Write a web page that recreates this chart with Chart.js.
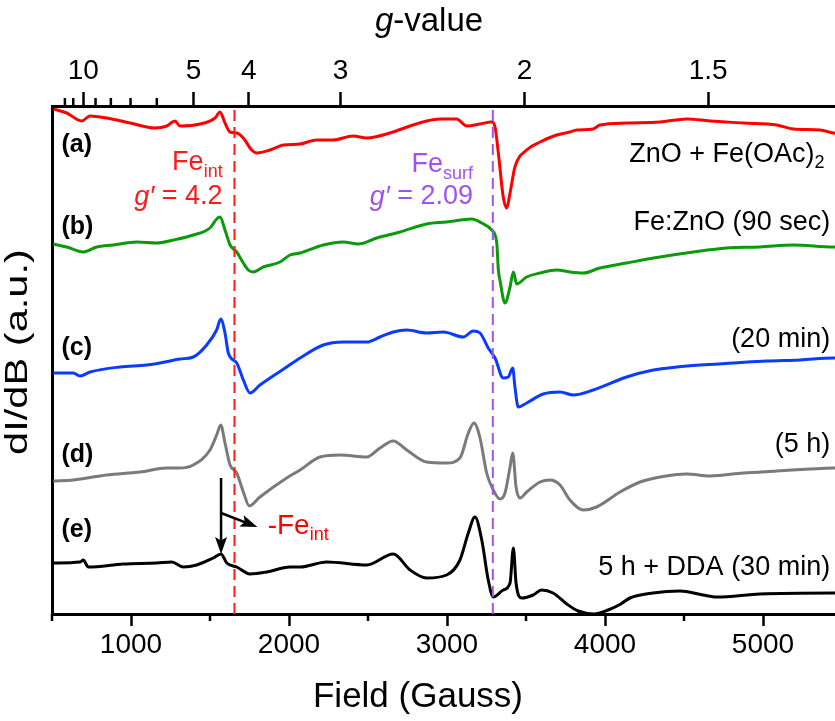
<!DOCTYPE html>
<html>
<head>
<meta charset="utf-8">
<script src="https://cdn.jsdelivr.net/npm/chart.js@4.4.1/dist/chart.umd.min.js"></script>
<style>
html, body { margin: 0; padding: 0; background: #fff; overflow: hidden; }
#wrap { width: 846px; height: 721px; }
</style>
</head>
<body>
<div id="wrap"><canvas id="epr" width="846" height="721"></canvas></div>
<script>
// field (gauss) and offset dI/dB signal (a.u.) for each sample
const fieldA = [510, 593, 688, 740, 846, 994, 1152, 1226, 1278, 1310, 1437, 1532, 1563, 1595, 1627, 1669, 1711, 1764, 1796, 1880, 1964, 2070, 2175, 2278, 2405, 2492, 2639, 2766, 2871, 2956, 3061, 3125, 3209, 3283, 3304, 3325, 3356, 3378, 3399, 3430, 3504, 3589, 3694, 3778, 3821, 3924, 3968, 4137, 4348, 4517, 4664, 4875, 5087, 5192, 5361, 5445, 5500];
const signalA = [50.1, 49.7, 48.9, 49.4, 49.2, 48.7, 48.2, 48.4, 48.9, 48.4, 48.6, 49.2, 49.8, 48.7, 47.8, 47.7, 47.2, 46.0, 45.7, 46.0, 46.5, 46.6, 47.0, 47.0, 47.4, 47.2, 47.7, 48.4, 48.9, 49.1, 49.1, 48.4, 48.6, 48.8, 48.3, 45.7, 41.3, 40.2, 41.7, 44.3, 46.0, 46.8, 47.5, 47.8, 48.0, 48.1, 48.5, 48.7, 48.8, 49.1, 48.9, 48.7, 48.5, 48.1, 48.0, 47.7, 47.6];

const fieldB = [508, 593, 698, 783, 888, 1036, 1163, 1268, 1394, 1500, 1542, 1563, 1595, 1627, 1669, 1711, 1742, 1774, 1837, 1943, 2006, 2070, 2217, 2344, 2439, 2555, 2703, 2871, 2998, 3156, 3220, 3283, 3315, 3325, 3335, 3367, 3399, 3420, 3441, 3504, 3589, 3694, 3778, 3863, 3968, 4137, 4348, 4559, 4770, 4981, 5192, 5445, 5500];
const signalB = [36.6, 36.3, 35.8, 36.3, 36.5, 36.8, 36.7, 37.0, 37.5, 38.2, 39.1, 39.3, 38.0, 36.5, 35.8, 34.7, 34.0, 33.8, 34.3, 34.8, 35.5, 35.7, 36.5, 36.8, 36.6, 37.2, 37.8, 38.6, 38.8, 39.1, 38.7, 38.0, 36.7, 34.0, 33.0, 30.7, 32.3, 33.8, 32.6, 33.3, 33.7, 34.0, 33.8, 33.7, 34.2, 34.7, 35.3, 35.8, 36.2, 36.3, 36.5, 36.3, 36.4];

const fieldC = [508, 635, 677, 741, 930, 1099, 1184, 1310, 1394, 1479, 1542, 1568, 1595, 1616, 1669, 1711, 1753, 1816, 1985, 2070, 2217, 2344, 2492, 2576, 2660, 2745, 2871, 2977, 3103, 3166, 3209, 3261, 3304, 3356, 3388, 3416, 3430, 3451, 3504, 3609, 3715, 3799, 3926, 4137, 4306, 4454, 4601, 4812, 5023, 5234, 5445, 5500];
const signalC = [23.7, 23.7, 23.4, 23.8, 24.3, 24.5, 24.7, 25.1, 25.3, 26.5, 28.0, 29.1, 27.7, 25.7, 24.7, 23.0, 21.7, 22.5, 24.3, 25.2, 26.5, 26.8, 26.8, 27.3, 27.8, 28.0, 27.7, 27.8, 27.3, 27.9, 27.7, 26.2, 25.2, 23.2, 23.3, 24.2, 22.3, 20.3, 20.7, 21.6, 21.8, 21.5, 22.0, 23.3, 24.0, 24.3, 24.5, 24.7, 24.9, 25.0, 25.2, 25.2];

const fieldD = [508, 635, 846, 1057, 1226, 1310, 1394, 1500, 1542, 1568, 1595, 1627, 1669, 1711, 1749, 1816, 1985, 2070, 2196, 2323, 2492, 2576, 2660, 2745, 2871, 2998, 3082, 3135, 3171, 3209, 3251, 3293, 3335, 3367, 3399, 3416, 3437, 3462, 3504, 3589, 3652, 3715, 3778, 3863, 3947, 4095, 4222, 4348, 4517, 4664, 4875, 5087, 5297, 5445, 5500];
const signalD = [12.9, 13.0, 13.5, 13.8, 14.2, 14.2, 14.5, 16.0, 17.5, 18.5, 16.7, 14.5, 13.7, 11.8, 10.4, 11.3, 13.2, 14.0, 15.3, 15.5, 15.3, 16.2, 16.9, 16.0, 14.8, 14.7, 15.2, 17.7, 18.7, 17.2, 13.7, 12.0, 11.1, 11.7, 14.3, 15.7, 12.3, 11.2, 11.8, 12.8, 13.0, 12.5, 11.0, 10.0, 10.3, 11.8, 12.8, 13.3, 13.6, 13.4, 13.7, 13.9, 14.1, 14.2, 14.2];

const fieldE = [508, 677, 698, 730, 951, 1163, 1258, 1331, 1416, 1521, 1570, 1606, 1669, 1753, 1859, 2006, 2070, 2239, 2492, 2660, 2766, 2871, 2998, 3082, 3135, 3177, 3220, 3261, 3293, 3356, 3399, 3420, 3437, 3473, 3546, 3599, 3671, 3758, 3830, 3930, 4020, 4100, 4158, 4304, 4475, 4620, 4707, 4981, 5443, 5500];
const signalE = [4.7, 4.8, 5.0, 4.3, 4.6, 4.7, 4.8, 4.3, 4.5, 5.2, 5.6, 4.7, 4.3, 3.6, 3.8, 4.3, 4.3, 4.8, 4.5, 5.6, 4.0, 3.2, 3.5, 5.0, 7.7, 9.3, 7.0, 3.0, 1.3, 2.0, 2.7, 6.2, 2.7, 1.2, 1.5, 2.0, 1.7, 0.6, -0.1, -0.4, 0.0, 0.6, 1.2, 1.7, 1.9, 1.5, 1.3, 1.6, 1.7, 1.7];

const traceNames = ['ZnO + Fe(OAc)2', 'Fe:ZnO (90 sec)', '(20 min)', '(5 h)', '5 h + DDA (30 min)'];
const traceColors = ['#ff0000', '#0c990c', '#0a3cff', '#7a7a7a', '#000000'];

// marked resonances: Fe_int (g' = 4.2) and Fe_surf (g' = 2.09)
const markerFields = [1655, 3290];
const markerColors = ['#ff1a1a', '#a052f0'];

// g = gConst / B  (h*nu / muB in gauss for the X-band frequency)
const gConst = 6980;
const gMajor = [10, 5, 4, 3, 2, 1.5];
const gMinor = [12, 11, 9, 8, 7, 6];

const fieldTicks = [1000, 2000, 3000, 4000, 5000];
const fieldMinor = [500, 1500, 2500, 3500, 4500, 5500];

const FONT = '"Liberation Sans", Arial, sans-serif';
const yMin = -0.4, yMax = 50.4;

function pts(xs, ys) {
    return xs.map((x, i) => ({ x: x, y: ys[i] }));
}

const traces = [[fieldA, signalA], [fieldB, signalB], [fieldC, signalC], [fieldD, signalD], [fieldE, signalE]];

const datasets = [];
markerFields.forEach((f, i) => {
    datasets.push({
        data: [{ x: f, y: yMin }, { x: f, y: yMax }],
        borderColor: markerColors[i],
        borderWidth: 2,
        borderDash: [11, 6],
        pointRadius: 0
    });
});
traces.forEach((t, i) => {
    datasets.push({
        label: traceNames[i],
        data: pts(t[0], t[1]),
        borderColor: traceColors[i],
        borderWidth: 3,
        pointRadius: 0,
        cubicInterpolationMode: 'monotone',
        fill: false
    });
});

// text with sub/superscript parts: [text, font, dy]
function richText(ctx, parts, x, y, align, color) {
    let w = 0;
    parts.forEach(p => { ctx.font = p[1]; w += ctx.measureText(p[0]).width; });
    let cx = align === 'right' ? x - w : (align === 'center' ? x - w / 2 : x);
    ctx.fillStyle = color;
    ctx.textAlign = 'left';
    ctx.textBaseline = 'middle';
    parts.forEach(p => {
        ctx.font = p[1];
        ctx.fillText(p[0], cx, y + (p[2] || 0));
        cx += ctx.measureText(p[0]).width;
    });
}

function arrow(ctx, x1, y1, x2, y2) {
    const a = Math.atan2(y2 - y1, x2 - x1);
    const L = 17, W = 6;
    ctx.beginPath();
    ctx.moveTo(x1, y1);
    ctx.lineTo(x2 - Math.cos(a) * L * 0.8, y2 - Math.sin(a) * L * 0.8);
    ctx.stroke();
    ctx.beginPath();
    ctx.moveTo(x2, y2);
    ctx.lineTo(x2 - Math.cos(a) * L - Math.sin(a) * W, y2 - Math.sin(a) * L + Math.cos(a) * W);
    ctx.lineTo(x2 - Math.cos(a) * L * 0.8, y2 - Math.sin(a) * L * 0.8);
    ctx.lineTo(x2 - Math.cos(a) * L + Math.sin(a) * W, y2 - Math.sin(a) * L - Math.cos(a) * W);
    ctx.closePath();
    ctx.fill();
}

const labelsPlugin = {
    id: 'eprLabels',
    afterDraw(chart) {
        const ctx = chart.ctx;
        const area = chart.chartArea;
        const xs = chart.scales.x, ys = chart.scales.y;
        const X = v => xs.getPixelForValue(v), Y = v => ys.getPixelForValue(v);
        ctx.save();

        // minor ticks, bottom and top
        ctx.strokeStyle = '#000';
        ctx.lineWidth = 2.5;
        fieldMinor.forEach(f => {
            ctx.beginPath();
            ctx.moveTo(X(f), area.bottom);
            ctx.lineTo(X(f), area.bottom + 7);
            ctx.stroke();
        });
        gMinor.forEach(g => {
            ctx.beginPath();
            ctx.moveTo(X(gConst / g), area.top);
            ctx.lineTo(X(gConst / g), area.top - 8);
            ctx.stroke();
        });

        // axis titles
        richText(ctx, [['g', 'italic 33px ' + FONT], ['-value', '33px ' + FONT]], 429, 22, 'center', '#000');
        richText(ctx, [['Field (Gauss)', '35px ' + FONT]], 418, 697, 'center', '#000');
        ctx.save();
        ctx.translate(18, 352);
        ctx.rotate(-Math.PI / 2);
        ctx.scale(1.3, 1);
        richText(ctx, [['dI/dB (a.u.)', '32px ' + FONT]], 0, 0, 'center', '#000');
        ctx.restore();

        // panel letters
        const letters = ['(a)', '(b)', '(c)', '(d)', '(e)'];
        const letterY = [46.5, 38.3, 26.2, 15.5, 8.0];
        letters.forEach((l, i) => richText(ctx, [[l, 'bold 25px ' + FONT]], X(560), Y(letterY[i]), 'left', '#000'));

        // sample names at right
        const nameY = [45.5, 38.7, 27.0, 16.5, 4.2];
        const small = '18px ' + FONT, big = '27px ' + FONT;
        richText(ctx, [['ZnO + Fe(OAc)', big], ['2', small, 8]], X(5390), Y(nameY[0]), 'right', '#000');
        for (let i = 1; i < 5; i++) {
            richText(ctx, [[traceNames[i], big]], X(5425), Y(nameY[i]), 'right', '#000');
        }

        // resonance labels
        richText(ctx, [['Fe', big], ['int', small, 9]], X(1580), Y(44.7), 'right', markerColors[0]);
        richText(ctx, [['g\u2032', 'italic 27px ' + FONT], [' = 4.2', big]], X(1580), Y(41.3), 'right', markerColors[0]);
        richText(ctx, [['Fe', big], ['surf', small, 9]], X(3165), Y(44.5), 'right', markerColors[1]);
        richText(ctx, [['g\u2032', 'italic 27px ' + FONT], [' = 2.09', big]], X(3165), Y(41.3), 'right', markerColors[1]);

        // loss of the interstitial signal after DDA
        ctx.strokeStyle = '#000';
        ctx.fillStyle = '#000';
        ctx.lineWidth = 2.5;
        arrow(ctx, X(1570), Y(13.2), X(1570), Y(5.6));
        arrow(ctx, X(1570), Y(9.7), X(1800), Y(8.3));
        richText(ctx, [['-Fe', '28px ' + FONT], ['int', small, 9]], X(1865), Y(8.4), 'left', '#ff0000');

        ctx.restore();
    }
};

new Chart(document.getElementById('epr'), {
    type: 'line',
    data: { datasets: datasets },
    options: {
        responsive: false,
        animation: false,
        devicePixelRatio: 1,
        layout: { padding: { top: 0, left: 0, right: 4, bottom: 0 } },
        plugins: { legend: { display: false }, tooltip: { enabled: false } },
        scales: {
            x: {
                type: 'linear',
                position: 'bottom',
                min: 500,
                max: 5500,
                afterBuildTicks: s => { s.ticks = fieldTicks.map(v => ({ value: v })); },
                afterFit: s => { s.height = 107; },
                ticks: { color: '#000', font: { family: FONT, size: 28 }, padding: 2, maxRotation: 0, autoSkip: false, callback: v => String(v) },
                grid: { drawOnChartArea: false, tickLength: 12, tickWidth: 2.5, tickColor: '#000' },
                border: { display: true, color: '#000', width: 3 }
            },
            g: {
                type: 'linear',
                position: 'top',
                min: 500,
                max: 5500,
                afterBuildTicks: s => { s.ticks = gMajor.map(g => ({ value: gConst / g })); },
                afterFit: s => { s.height = 106; },
                ticks: {
                    color: '#000', font: { family: FONT, size: 28 }, padding: 4, maxRotation: 0, autoSkip: false,
                    callback: (v, i) => String(gMajor[i])
                },
                grid: { drawOnChartArea: false, tickLength: 14, tickWidth: 2.5, tickColor: '#000' },
                border: { display: true, color: '#000', width: 3 }
            },
            y: {
                min: yMin,
                max: yMax,
                afterFit: s => { s.width = 52; },
                ticks: { display: false },
                grid: { drawOnChartArea: false, drawTicks: false },
                border: { display: true, color: '#000', width: 3 }
            }
        }
    },
    plugins: [labelsPlugin]
});
</script>
</body>
</html>
